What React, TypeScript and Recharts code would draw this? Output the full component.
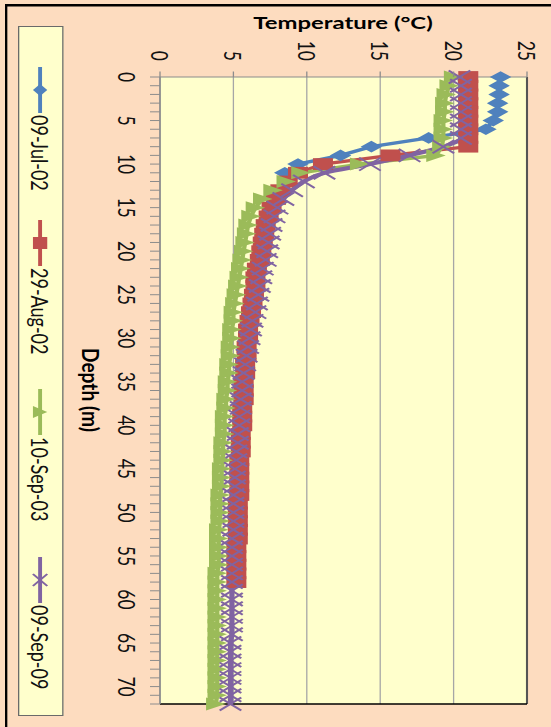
import React from "react";
import { CartesianGrid, Line, LineChart, ReferenceLine, XAxis, YAxis } from "recharts";

// depth categories (m)
const depths = [
  0, 1, 2, 3, 4, 5, 6, 7, 8, 9, 10, 11, 12, 13, 14, 15, 16, 17, 18, 19, 20, 21, 22, 23, 24,
  25, 26, 27, 28, 29, 30, 31, 32, 33, 34, 35, 36, 37, 38, 39, 40, 41, 42, 43, 44, 45, 46, 47, 48, 49,
  50, 51, 52, 53, 54, 55, 56, 57, 58, 59, 60, 61, 62, 63, 64, 65, 66, 67, 68, 69, 70, 71, 72,
];

// temperature profiles (°C), one value per metre from the surface
const jul02 = [23.2, 23.1, 23.1, 23.0, 23.0, 22.7, 22.2, 18.3, 14.4, 12.3, 9.4, 8.5];

const aug02 = [
  21.0, 21.0, 21.0, 21.0, 21.0, 21.0, 21.0, 21.0, 21.0, 15.7,
  11.1, 9.4, 8.7, 8.2, 7.9, 7.6, 7.4, 7.2, 7.1, 7.0,
  6.9, 6.8, 6.6, 6.5, 6.5, 6.4, 6.3, 6.2, 6.1, 6.0,
  6.0, 5.9, 5.9, 5.8, 5.8, 5.7, 5.7, 5.7, 5.6, 5.6,
  5.6, 5.5, 5.5, 5.5, 5.4, 5.4, 5.4, 5.4, 5.4, 5.3,
  5.3, 5.3, 5.3, 5.3, 5.2, 5.2, 5.2, 5.2, 5.2,
];

const sep03 = [
  20.0, 19.7, 19.5, 19.4, 19.4, 19.3, 19.3, 19.3, 19.2, 18.8,
  13.6, 9.6, 8.6, 7.7, 7.0, 6.5, 6.2, 6.0, 5.9, 5.8,
  5.7, 5.6, 5.5, 5.4, 5.3, 5.2, 5.1, 5.0, 5.0, 4.9,
  4.9, 4.8, 4.8, 4.7, 4.7, 4.6, 4.6, 4.5, 4.5, 4.4,
  4.4, 4.4, 4.3, 4.3, 4.3, 4.2, 4.2, 4.2, 4.1, 4.1,
  4.1, 4.1, 4.0, 4.0, 4.0, 4.0, 4.0, 3.9, 3.9, 3.9,
  3.9, 3.9, 3.9, 3.9, 3.9, 3.9, 3.9, 3.9, 3.9, 3.9,
  3.9, 3.9, 3.8,
];

const sep09 = [
  20.4, 20.5, 20.5, 20.5, 20.5, 20.5, 20.5, 20.5, 19.3, 17.0,
  14.3, 11.2, 9.8, 9.0, 8.4, 8.0, 7.8, 7.6, 7.5, 7.4,
  7.3, 7.2, 7.0, 6.9, 6.8, 6.7, 6.6, 6.5, 6.3, 6.2,
  6.1, 6.0, 5.9, 5.8, 5.7, 5.6, 5.6, 5.5, 5.5, 5.4,
  5.4, 5.3, 5.3, 5.2, 5.2, 5.1, 5.1, 5.1, 5.0, 5.0,
  5.0, 5.0, 5.0, 4.9, 4.9, 4.9, 4.9, 4.9, 4.9, 4.9,
  4.9, 4.9, 4.9, 4.9, 4.9, 4.8, 4.8, 4.8, 4.8, 4.8,
  4.8, 4.8, 4.8,
];

const seriesNames = ["09-Jul-02", "29-Aug-02", "10-Sep-03", "09-Sep-09"];
const depthTicks = depths;
const tempTicks = [0, 5, 10, 15, 20, 25];

const PEACH = "#FDDCBF";
const PLOT_BG = "#FFFFCC";
const K = 1.3; // the picture is stretched across the temperature direction
const W = 727;
const H = 551 / K;

type Kind = "diamond" | "square" | "triangle" | "x";

const series: { key: string; name: string; color: string; kind: Kind; curve: "linear" | "monotone"; width: number }[] = [
  { key: "jul02", name: seriesNames[0], color: "#4F81BD", kind: "diamond", curve: "linear", width: 3.3 },
  { key: "aug02", name: seriesNames[1], color: "#C0504D", kind: "square", curve: "linear", width: 3.3 },
  { key: "sep03", name: seriesNames[2], color: "#9BBB59", kind: "triangle", curve: "linear", width: 3.3 },
  { key: "sep09", name: seriesNames[3], color: "#8064A2", kind: "x", curve: "monotone", width: 4 },
];

const rows = depths.map((d, i) => ({
  depth: d,
  jul02: jul02[i],
  aug02: aug02[i],
  sep03: sep03[i],
  sep09: sep09[i],
}));

function Marker({ kind, cx, cy, color, w, h }: { kind: Kind; cx: number; cy: number; color: string; w: number; h: number }) {
  if (cx == null || cy == null || isNaN(cx) || isNaN(cy)) return <g />;
  const hw = w / 2;
  const hh = h / 2;
  if (kind === "diamond") {
    return <polygon points={`${cx},${cy - hh} ${cx + hw},${cy} ${cx},${cy + hh} ${cx - hw},${cy}`} fill={color} />;
  }
  if (kind === "square") {
    return <rect x={cx - hw} y={cy - hh} width={w} height={h} fill={color} />;
  }
  if (kind === "triangle") {
    return <polygon points={`${cx},${cy - hh} ${cx + hw},${cy + hh} ${cx - hw},${cy + hh}`} fill={color} />;
  }
  return (
    <g stroke={color} strokeWidth={1.8}>
      <line x1={cx - hw} y1={cy - hh} x2={cx + hw} y2={cy + hh} />
      <line x1={cx - hw} y1={cy + hh} x2={cx + hw} y2={cy - hh} />
    </g>
  );
}

const markerSize: Record<Kind, [number, number]> = {
  diamond: [11.7, 16.6],
  square: [11.8, 15.4],
  triangle: [13, 15],
  x: [13, 16.6],
};

function DepthTick(props: any) {
  const { x, y, payload } = props;
  const v = payload.value;
  return (
    <g>
      <line x1={x} x2={x} y1={y} y2={y + 7.7} stroke="#8c8c8c" strokeWidth={1} />
      {v % 5 === 0 && (
        <text x={x} y={y + 25.7} textAnchor="middle" dominantBaseline="central" fontSize={17.5} fontFamily="Lato" fill="#111">
          {v}
        </text>
      )}
    </g>
  );
}

function TempTick(props: any) {
  const { x, y, payload } = props;
  return (
    <g>
      <line x1={x} x2={x - 5.5} y1={y} y2={y} stroke="#8c8c8c" strokeWidth={1} />
      <text x={x - 16} y={y} textAnchor="end" dominantBaseline="central" fontSize={17.5} fontFamily="Lato" fill="#111">
        {payload.value}
      </text>
    </g>
  );
}

const legendStarts = [66, 219, 388, 556];

export default function App() {
  const plotTop = 24 / K;
  const plotBottom = 391 / K;
  return (
    <div style={{ position: "fixed", left: 0, top: 0, width: 551, height: 727, overflow: "hidden", background: PEACH }}>
      <div
        style={{
          position: "absolute",
          left: 0,
          top: 0,
          width: W,
          height: H,
          transformOrigin: "0 0",
          transform: `translate(551px, 0px) rotate(90deg) scale(1, ${K})`,
          fontFamily: "Lato, sans-serif",
        }}
      >
        <LineChart
          width={W}
          height={H}
          data={rows}
          margin={{ top: plotTop, right: W - 704, left: 17, bottom: H - plotBottom - 40 }}
        >
          <CartesianGrid fill={PLOT_BG} vertical={false} stroke="#a6a6a6" strokeWidth={1} />
          <XAxis
            dataKey="depth"
            type="number"
            domain={[0, 72]}
            ticks={depthTicks}
            interval={0}
            height={40}
            tickSize={0}
            tickMargin={0}
            axisLine={{ stroke: "#8c8c8c", strokeWidth: 1.2 }}
            tickLine={false}
            tick={<DepthTick />}
          />
          <YAxis
            type="number"
            domain={[0, 25]}
            ticks={tempTicks}
            interval={0}
            width={60}
            tickSize={0}
            tickMargin={0}
            axisLine={{ stroke: "#8c8c8c", strokeWidth: 1.2 }}
            tickLine={false}
            tick={<TempTick />}
          />
          <ReferenceLine y={25} stroke="#555555" strokeWidth={1.6} />
          <ReferenceLine x={72} stroke="#000000" strokeWidth={1.6} />
          {series.map((s) => (
            <Line
              key={s.key}
              dataKey={s.key}
              name={s.name}
              type={s.curve}
              stroke={s.color}
              strokeWidth={s.width}
              isAnimationActive={false}
              activeDot={false}
              dot={(p: any) => (
                <Marker key={`${s.key}-${p.index}`} kind={s.kind} cx={p.cx} cy={p.cy} color={s.color} w={markerSize[s.kind][0]} h={markerSize[s.kind][1]} />
              )}
            />
          ))}
        </LineChart>

        <svg width={W} height={H} style={{ position: "absolute", left: 0, top: 0, pointerEvents: "none" }}>
          <line x1={5.3} x2={5.3} y1={-10} y2={420} stroke="#000" strokeWidth={2.6} />
          <line x1={4} x2={W + 10} y1={419.1} y2={419.1} stroke="#000" strokeWidth={1.8} />
          <text
            x={22.5}
            y={160}
            transform="rotate(-90 22.5 160)"
            textAnchor="middle"
            dominantBaseline="central"
            fontFamily="Lato"
            fontWeight="bold"
            fontSize={17.5}
            textLength={138}
            lengthAdjust="spacingAndGlyphs"
            fill="#000"
          >
            Temperature (°C)
          </text>
          <text
            x={390}
            y={354.2}
            textAnchor="middle"
            dominantBaseline="central"
            fontFamily="Lato"
            fontWeight="bold"
            fontSize={17.5}
            textLength={84}
            lengthAdjust="spacingAndGlyphs"
            fill="#000"
          >
            Depth (m)
          </text>
        </svg>

        <div
          style={{
            position: "absolute",
            left: 26,
            top: 375.4,
            width: 690,
            height: 34.6,
            boxSizing: "border-box",
            background: PLOT_BG,
            borderLeft: "1.5px solid #6a6a6a",
            borderRight: "1.5px solid #6a6a6a",
            borderTop: "1.2px solid #6a6a6a",
            borderBottom: "1.2px solid #6a6a6a",
          }}
        >
          {series.map((s, i) => (
            <div
              key={s.key}
              style={{
                position: "absolute",
                left: legendStarts[i] - 26,
                top: 0,
                height: "100%",
                display: "flex",
                alignItems: "center",
                whiteSpace: "nowrap",
              }}
            >
              <svg width={46} height={32} style={{ display: "block" }}>
                <line x1={0} x2={46} y1={16} y2={16} stroke={s.color} strokeWidth={3} />
                <Marker kind={s.kind} cx={23} cy={16} color={s.color} w={12} h={11} />
              </svg>
              <span style={{ fontFamily: "Lato", fontSize: 18, color: "#111", marginLeft: 2 }}>{s.name}</span>
            </div>
          ))}
        </div>
      </div>
    </div>
  );
}
